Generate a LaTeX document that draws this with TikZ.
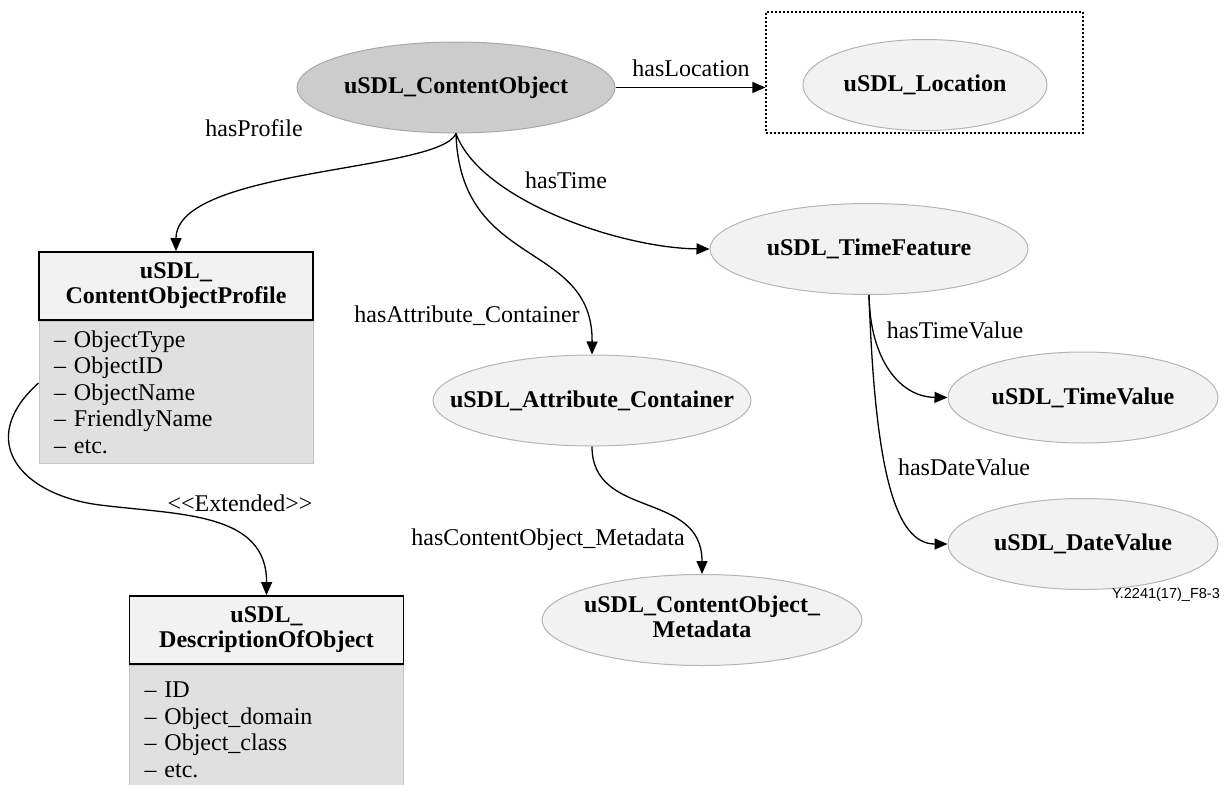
\documentclass[tikz,border=0pt]{standalone}
\usepackage{fontspec}
\setmainfont{Liberation Serif}
\newfontfamily\figfont{Liberation Sans}
\usetikzlibrary{shapes.geometric,arrows.meta,positioning}

\definecolor{coFill}{HTML}{CCCCCC}
\definecolor{coLine}{HTML}{A8A8A8}
\definecolor{clsFill}{HTML}{F2F2F2}
\definecolor{clsLine}{HTML}{B4B4B4}
\definecolor{bodyFill}{HTML}{E0E0E0}
\definecolor{bodyLine}{HTML}{C4C4C4}

\newcommand{\ename}[1]{\makebox[0pt]{#1}}

\tikzset{
  cls/.style={ellipse, draw=clsLine, fill=clsFill, line width=1pt, inner sep=0pt,
    minimum width=318pt, minimum height=91pt, font=\fontsize{24}{25}\selectfont\bfseries},
  headbox/.style={rectangle, draw=black, fill=clsFill, line width=1.3pt, minimum width=274pt,
    minimum height=68pt, text width=250pt, align=center, inner sep=0pt,
    font=\fontsize{24}{25}\selectfont\bfseries},
  bodybox/.style={rectangle, draw=bodyLine, fill=bodyFill, line width=1pt, minimum width=274pt,
    text width=244pt, align=left, inner xsep=15pt, inner ysep=0pt,
    font=\fontsize{24}{26.5}\selectfont},
  rel/.style={-{Triangle[length=13pt,width=11pt]}, line width=1.3pt},
  rellabel/.style={font=\fontsize{24}{26}\selectfont, inner sep=0pt},
}

\begin{document}
\begin{tikzpicture}[x=1pt, y=-1pt]
  \useasboundingbox (0,0) rectangle (1230,784);

  % classes
  \node[cls, fill=coFill, draw=coLine] (co) at (456,87.5) {\ename{uSDL\_ContentObject}};
  \node[draw, line width=1.2pt, dash pattern=on 2pt off 2pt, minimum width=317pt,
    minimum height=121pt, inner sep=0pt] (locBox) at (924.5,72.5) {};
  \node[cls, minimum width=244pt] (loc) at (925,85) {\ename{uSDL\_Location}};
  \node[cls] (timeF) at (869,249) {\ename{uSDL\_TimeFeature}};
  \node[cls, minimum width=270pt] (timeV) at (1083,397.5) {\ename{uSDL\_TimeValue}};
  \node[cls, minimum width=270pt] (dateV) at (1083,544) {\ename{uSDL\_DateValue}};
  \node[cls] (attr) at (592,400.5) {\ename{uSDL\_Attribute\_Container}};
  \node[cls, minimum width=320pt] (meta) at (702,620)
    {\ename{\begin{tabular}{@{}c@{}}uSDL\_ContentObject\_\\Metadata\end{tabular}}};

  % profile boxes
  \node[bodybox, minimum height=142pt] (profBody) at (176,392)
    {– ObjectType\\– ObjectID\\– ObjectName\\– FriendlyName\\– etc.};
  \node[headbox, above=0pt of profBody] (profHead) {uSDL\_\\ContentObjectProfile};
  \node[bodybox, minimum height=130pt] (descBody) at (266.5,730)
    {– ID\\– Object\_domain\\– Object\_class\\– etc.};
  \node[headbox, above=0pt of descBody] (descHead) {uSDL\_\\DescriptionOfObject};

  % connectors
  \draw[rel] (co.east) -- (co.east -| locBox.west);
  \draw[rel] (co.south) .. controls (440,172) and (176,168) .. (profHead.north);
  \draw[rel] (co.south) .. controls (480,200) and (620,248) .. (timeF.west);
  \draw[rel] (co.south) .. controls (460,270) and (593,240) .. (attr.north);
  \draw[rel] (attr.south) .. controls (592,520) and (702,490) .. (meta.north);
  \draw[rel] (timeF.south) .. controls (870,360) and (900,397) .. (timeV.west);
  \draw[rel] (timeF.south) .. controls (875,470) and (895,544) .. (dateV.west);
  \draw[rel] ([yshift=9pt]profBody.west) .. controls (-25,440) and (20,495) .. (100,505)
    .. controls (180,515) and (267,512) .. (descHead.north);

  % labels
  \node[rellabel] (lLoc) at (691,68) {hasLocation};
  \node[rellabel] (lProf) at (254,128) {hasProfile};
  \node[rellabel] (lTime) at (566,180) {hasTime};
  \node[rellabel] (lAttr) at (467,316) {hasAttribute\_Container};
  \node[rellabel] (lMeta) at (548,540) {hasContentObject\_Metadata};
  \node[rellabel] (lTimeV) at (955,330) {hasTimeValue};
  \node[rellabel] (lDateV) at (964,467) {hasDateValue};
  \node[rellabel] (lExt) at (240,503) {\mbox{<}\mbox{<}Extended\mbox{>}\mbox{>}};
  \node[font=\figfont\fontsize{14.5}{16}\selectfont, anchor=east, inner sep=0pt] (figId)
    at (1220,595) {Y.2241(17)\_F8-3};
\end{tikzpicture}
\end{document}
